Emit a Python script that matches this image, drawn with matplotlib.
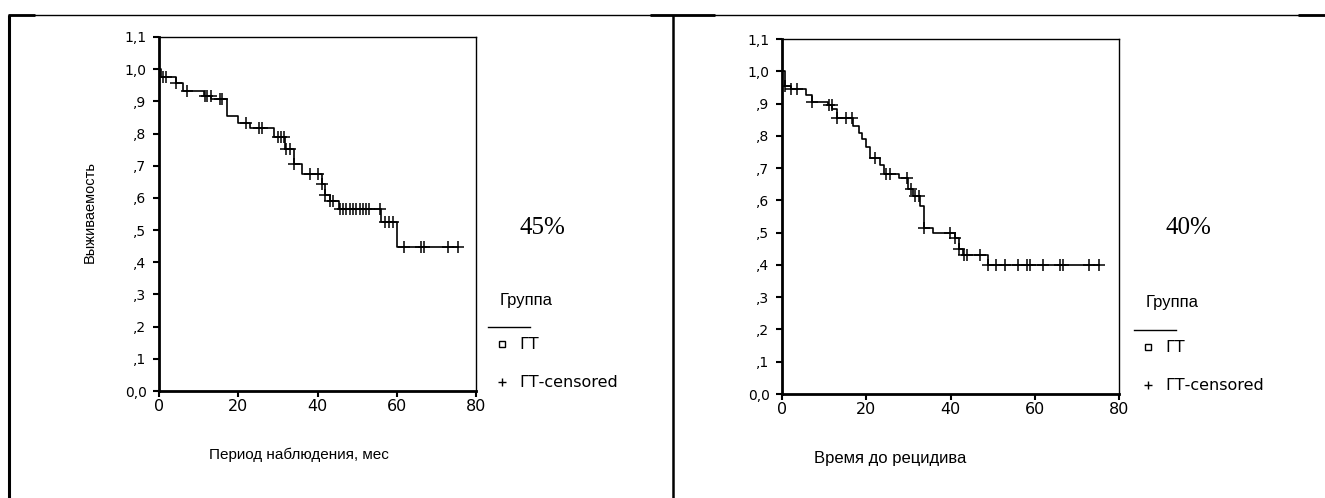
# Kaplan-Meier style survival curves, two panels side by side (SPSS look)

import matplotlib.pyplot as plt
from matplotlib.lines import Line2D
import numpy as np

plt.rcParams['font.family'] = ['Liberation Sans', 'DejaVu Sans']

# left panel: overall survival
left_times = [0, 0.6, 4.2, 6.1, 11.4, 13.1, 17.2, 20.0, 23.0, 29.0, 31.8, 34.0,
              36.0, 41.2, 41.9, 43.1, 45.3, 56.0, 60.0]
left_surv = [1.0, 0.977, 0.957, 0.933, 0.918, 0.907, 0.856, 0.832, 0.818, 0.790,
             0.753, 0.706, 0.675, 0.642, 0.608, 0.590, 0.567, 0.524, 0.448]
left_cens = [1.0, 1.8, 4.2, 7.1, 11.5, 12.1, 13.0, 15.3, 16.0, 22.0, 25.2, 25.9,
             30.0, 30.8, 31.5, 32.0, 33.0, 34.0, 38.0, 40.2, 41.2, 41.9, 43.1, 43.8,
             45.6, 46.4, 47.3, 48.1, 49.0, 49.8, 50.6, 51.4, 52.2, 53.0,
             55.7, 57.0, 58.0, 59.0, 61.8, 66.0, 66.9, 73.0, 75.5]

# right panel: time to relapse
right_times = [0, 0.6, 2.2, 5.8, 7.1, 11.0, 11.9, 13.1, 16.9, 18.3, 19.1, 20.0,
               20.8, 23.2, 24.2, 27.8, 30.0, 31.1, 32.7, 33.7, 35.9, 41.0, 41.9,
               43.0, 49.0]
right_surv = [1.0, 0.953, 0.945, 0.925, 0.905, 0.894, 0.882, 0.856, 0.830, 0.809,
              0.790, 0.765, 0.730, 0.710, 0.683, 0.670, 0.636, 0.613, 0.583, 0.513,
              0.500, 0.482, 0.449, 0.432, 0.400]
right_cens = [0.6, 2.2, 3.6, 7.1, 11.2, 11.8, 13.1, 15.1, 16.7, 22.0, 24.8, 25.6,
              29.7, 30.7, 31.5, 32.5, 33.7, 39.8, 41.0, 41.9, 43.2, 44.0, 47.0,
              49.0, 50.9, 53.0, 56.0, 58.2, 58.8, 62.0, 66.1, 66.7, 72.9, 75.2]

yticks = [0.0, 0.1, 0.2, 0.3, 0.4, 0.5, 0.6, 0.7, 0.8, 0.9, 1.0, 1.1]
ytick_labels = ['0,0', ',1', ',2', ',3', ',4', ',5', ',6', ',7', ',8', ',9', '1,0', '1,1']
xticks = [0, 20, 40, 60, 80]

W, H = 1325, 498
fig = plt.figure(figsize=(W / 100, H / 100), dpi=100)


def px(x, y):
    return x / W, 1 - y / H


def km_panel(rect, times, surv, cens):
    x0, y0, x1, y1 = rect
    ax = fig.add_axes([x0 / W, 1 - y1 / H, (x1 - x0) / W, (y1 - y0) / H])
    t = list(times) + [max(cens)]
    s = list(surv) + [surv[-1]]
    ax.plot(t, s, drawstyle='steps-post', color='black', lw=1.2)
    idx = np.searchsorted(times, cens, side='right') - 1
    ax.plot(cens, np.array(surv)[idx], linestyle='None', marker='+',
            markersize=9, mew=1.1, color='black')
    ax.set_xlim(0, 80)
    ax.set_ylim(0, 1.1)
    ax.set_xticks(xticks)
    ax.set_xticklabels([str(v) for v in xticks], fontsize=11.5, family='DejaVu Sans')
    ax.set_yticks(yticks)
    ax.set_yticklabels(ytick_labels, fontsize=10, family='DejaVu Sans')
    ax.tick_params(axis='both', direction='out', length=4, width=1.5, pad=5)
    ax.tick_params(axis='x', pad=2)
    for sp in ax.spines.values():
        sp.set_linewidth(1.0)
    ax.spines['left'].set_linewidth(2)
    ax.spines['bottom'].set_linewidth(2)
    return ax


ax1 = km_panel((159, 37, 476, 391), left_times, left_surv, left_cens)
ax2 = km_panel((782, 39, 1119, 394), right_times, right_surv, right_cens)

# axis titles
fig.text(*px(90, 212), 'Выживаемость', rotation=90, ha='center', va='center', fontsize=10.5)
fig.text(*px(299, 455), 'Период наблюдения, мес', ha='center', va='center', fontsize=11)
fig.text(*px(890, 458), 'Время до рецидива', ha='center', va='center', fontsize=12)

# percent labels
fig.text(*px(542, 228), '45%', ha='center', va='center', fontsize=18, family='Liberation Serif')
fig.text(*px(1188, 228), '40%', ha='center', va='center', fontsize=18, family='Liberation Serif')

# legends drawn by hand, SPSS style
for lx, ly in [(488, 300), (1134, 303)]:
    fig.text(*px(lx + 12, ly), 'Группа', ha='left', va='center', fontsize=12)
    fig.add_artist(Line2D([lx / W, (lx + 42) / W], [1 - (ly + 27) / H] * 2,
                          color='black', lw=1, transform=fig.transFigure))
    fig.add_artist(Line2D([(lx + 14) / W], [1 - (ly + 44) / H], marker='s', markersize=4,
                          mfc='white', mec='black', mew=1, linestyle='None',
                          transform=fig.transFigure))
    fig.text(*px(lx + 31, ly + 44), 'ГТ', ha='left', va='center', fontsize=11.5,
             family='DejaVu Sans')
    fig.add_artist(Line2D([(lx + 14) / W], [1 - (ly + 82) / H], marker='+', markersize=6,
                          mec='black', mew=1, linestyle='None', transform=fig.transFigure))
    fig.text(*px(lx + 31, ly + 82), 'ГТ-censored', ha='left', va='center', fontsize=11.5,
             family='DejaVu Sans')

# table borders around the two panels
def fig_line(xs, ys, lw):
    fig.add_artist(Line2D([x / W for x in xs], [1 - y / H for y in ys],
                          color='black', lw=lw, transform=fig.transFigure,
                          solid_capstyle='butt'))


fig_line([8, 1325], [15, 15], 1)
fig_line([8, 35], [15, 15], 2)
fig_line([650, 715], [15, 15], 2)
fig_line([1298, 1325], [15, 15], 2)
fig_line([9, 9], [15, 498], 2.2)
fig_line([673, 673], [15, 498], 1.8)

fig.savefig('out.png', dpi=100, facecolor='white')
